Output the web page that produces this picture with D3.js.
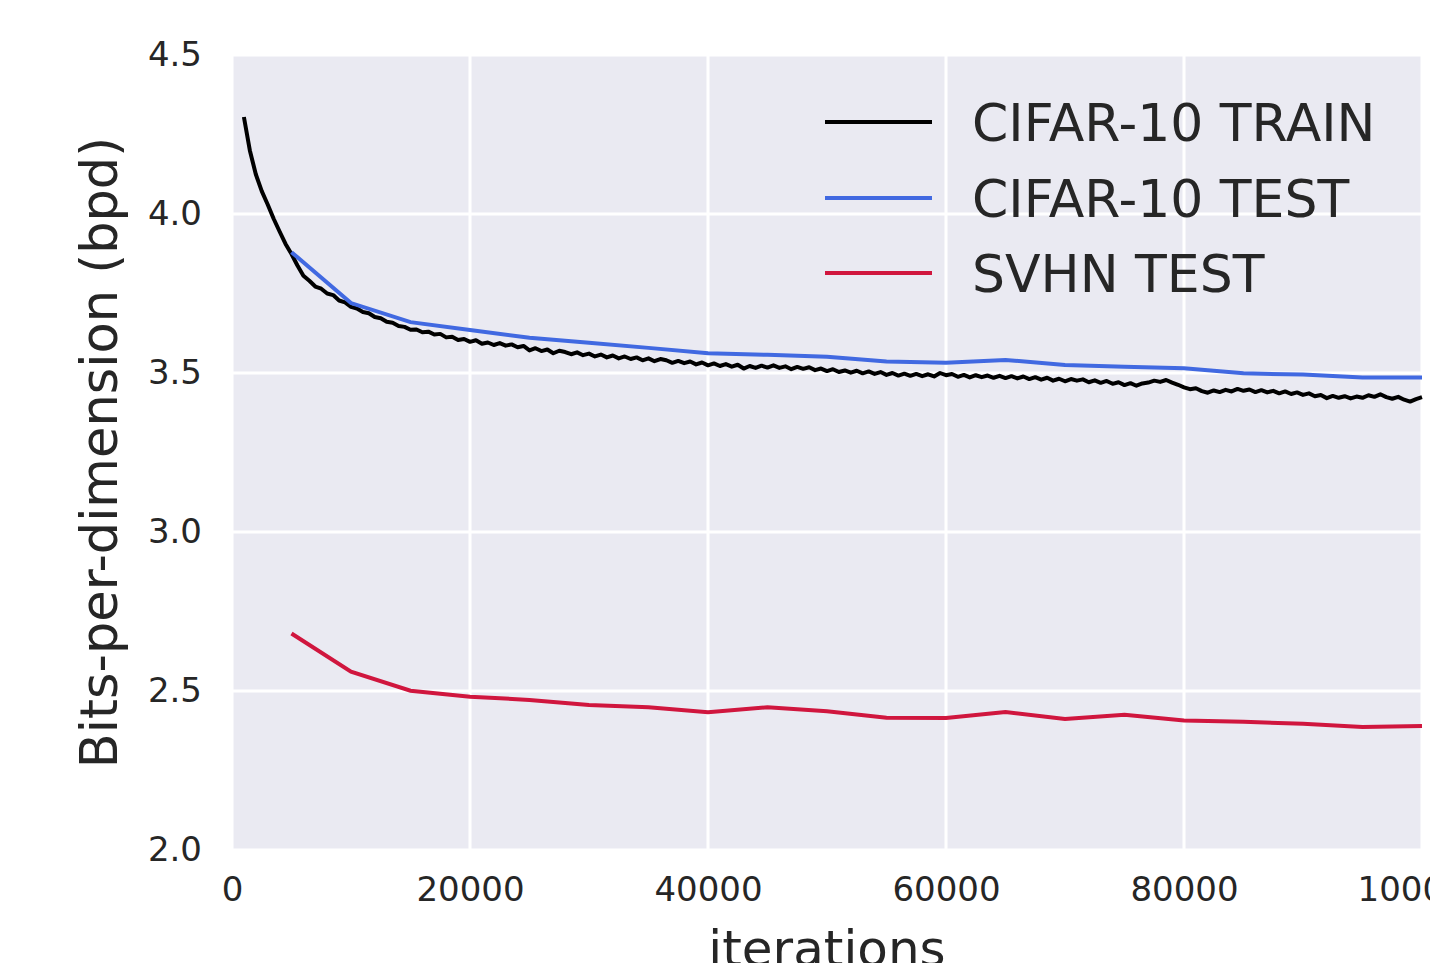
<!DOCTYPE html>
<html lang="en">
<head>
  <meta charset="UTF-8">
  <title>Bits-per-dimension vs iterations</title>
  <script src="https://d3js.org/d3.v7.min.js"></script>
  <style>
    body { margin: 0; background: #fff; }
    svg { display: block; }
    text { font-family: "DejaVu Sans", sans-serif; fill: #262626; }
  </style>
</head>
<body>
  <svg width="1430" height="963"></svg>
  <script>
    // Train curve is logged every 500 iterations starting at 1000.
    const trainStart = 1000, trainStep = 500;
    const trainBpd = [
      4.305, 4.200, 4.125, 4.072, 4.030, 3.985, 3.945, 3.906, 3.874, 3.838,
      3.806, 3.790, 3.772, 3.765, 3.750, 3.745, 3.728, 3.722, 3.708, 3.703,
      3.692, 3.688, 3.676, 3.672, 3.661, 3.658, 3.648, 3.645, 3.636, 3.637,
      3.628, 3.630, 3.621, 3.623, 3.612, 3.614, 3.604, 3.607,
      3.598, 3.603, 3.592, 3.596, 3.588, 3.594, 3.586, 3.590, 3.581, 3.585,
      3.571, 3.578, 3.569, 3.574, 3.562, 3.570, 3.566, 3.559, 3.565, 3.556,
      3.561, 3.552, 3.558, 3.549, 3.555, 3.546, 3.552, 3.544, 3.549, 3.540,
      3.546, 3.537, 3.544, 3.540, 3.532, 3.538, 3.531, 3.536, 3.527, 3.533,
      3.524, 3.530, 3.522, 3.528, 3.520, 3.526, 3.514, 3.522, 3.516, 3.523,
      3.517, 3.524, 3.516, 3.521, 3.512, 3.519, 3.513, 3.518, 3.509, 3.514,
      3.506, 3.512, 3.503, 3.508, 3.501, 3.507, 3.499, 3.505, 3.497, 3.503,
      3.494, 3.500, 3.492, 3.498, 3.491, 3.497, 3.490, 3.496, 3.489, 3.500,
      3.493, 3.497, 3.488, 3.494, 3.486, 3.493, 3.487, 3.492, 3.485, 3.491,
      3.484, 3.490, 3.483, 3.489, 3.481, 3.487, 3.479, 3.485, 3.476, 3.482,
      3.474, 3.481, 3.476, 3.480, 3.471, 3.477, 3.469, 3.475, 3.466, 3.471,
      3.462, 3.468, 3.460, 3.467, 3.470, 3.476, 3.472, 3.478, 3.470, 3.463,
      3.455, 3.449, 3.452, 3.443, 3.438, 3.445, 3.440, 3.447, 3.442, 3.450,
      3.444, 3.448, 3.440, 3.446, 3.439, 3.444, 3.436, 3.442, 3.434, 3.439,
      3.431, 3.436, 3.427, 3.431, 3.421, 3.428, 3.422, 3.427, 3.420, 3.426,
      3.422, 3.430, 3.425, 3.433, 3.424, 3.419, 3.425, 3.416, 3.410, 3.418,
      3.424
    ];

    // Test curves are evaluated every 5000 iterations.
    const testIters = [5000, 10000, 15000, 20000, 25000, 30000, 35000, 40000, 45000, 50000,
                       55000, 60000, 65000, 70000, 75000, 80000, 85000, 90000, 95000, 100000];
    const cifarTest = [3.880, 3.720, 3.660, 3.635, 3.611, 3.595, 3.579, 3.562, 3.557, 3.551,
                       3.536, 3.532, 3.541, 3.525, 3.520, 3.515, 3.499, 3.495, 3.486, 3.486];
    const svhnTest  = [2.681, 2.561, 2.501, 2.482, 2.472, 2.456, 2.449, 2.433, 2.449, 2.436,
                       2.416, 2.415, 2.434, 2.412, 2.425, 2.407, 2.403, 2.397, 2.387, 2.390];

    const xTicks = [0, 20000, 40000, 60000, 80000, 100000];
    const yTicks = [2.0, 2.5, 3.0, 3.5, 4.0, 4.5];

    const seriesNames = ["CIFAR-10 TRAIN", "CIFAR-10 TEST", "SVHN TEST"];
    const seriesColors = ["#000000", "#4169e1", "#d0163e"];

    const trainData = trainBpd.map((v, i) => ({ x: trainStart + i * trainStep, y: v }));
    const cifarData = testIters.map((it, i) => ({ x: it, y: cifarTest[i] }));
    const svhnData = testIters.map((it, i) => ({ x: it, y: svhnTest[i] }));

    const margin = { left: 232, right: 8, top: 55, bottom: 113 };
    const width = 1430, height = 963;
    const svg = d3.select("svg");

    const x = d3.scaleLinear().domain([0, 100000]).range([margin.left, width - margin.right]);
    const y = d3.scaleLinear().domain([2.0, 4.5]).range([height - margin.bottom, margin.top]);

    // background
    svg.append("rect")
       .attr("x", x(0)).attr("y", y(4.5))
       .attr("width", x(100000) - x(0)).attr("height", y(2.0) - y(4.5))
       .attr("fill", "#eaeaf2");

    // grid
    svg.append("g").selectAll("line").data(xTicks).join("line")
       .attr("x1", d => x(d)).attr("x2", d => x(d))
       .attr("y1", y(4.5)).attr("y2", y(2.0))
       .attr("stroke", "#fff").attr("stroke-width", 3);
    svg.append("g").selectAll("line").data(yTicks).join("line")
       .attr("x1", x(0)).attr("x2", x(100000))
       .attr("y1", d => y(d)).attr("y2", d => y(d))
       .attr("stroke", "#fff").attr("stroke-width", 3);

    // axes (labels only, seaborn style)
    const xAxis = svg.append("g")
       .attr("transform", `translate(0,${y(2.0)})`)
       .call(d3.axisBottom(x).tickValues(xTicks).tickFormat(d3.format("d")).tickSize(0).tickPadding(27));
    xAxis.select(".domain").remove();
    xAxis.selectAll("text").style("font-size", "34px").attr("fill", "#2e2e2e");

    const yAxis = svg.append("g")
       .attr("transform", `translate(${x(0)},0)`)
       .call(d3.axisLeft(y).tickValues(yTicks).tickFormat(d3.format(".1f")).tickSize(0).tickPadding(30));
    yAxis.select(".domain").remove();
    yAxis.selectAll("text").style("font-size", "34px").attr("fill", "#2e2e2e");

    // lines
    const line = d3.line().x(d => x(d.x)).y(d => y(d.y));
    svg.append("path").datum(svhnData).attr("d", line)
       .attr("fill", "none").attr("stroke", seriesColors[2]).attr("stroke-width", 4);
    svg.append("path").datum(trainData).attr("d", line)
       .attr("fill", "none").attr("stroke", seriesColors[0]).attr("stroke-width", 4)
       .attr("stroke-linejoin", "round");
    svg.append("path").datum(cifarData).attr("d", line)
       .attr("fill", "none").attr("stroke", seriesColors[1]).attr("stroke-width", 4);

    // axis labels
    svg.append("text")
       .attr("x", (x(0) + x(100000)) / 2).attr("y", 966)
       .attr("text-anchor", "middle")
       .style("font-size", "50px")
       .text("iterations");
    svg.append("text")
       .attr("transform", `translate(117,${(y(2.0) + y(4.5)) / 2}) rotate(-90)`)
       .attr("text-anchor", "middle")
       .style("font-size", "51px")
       .text("Bits-per-dimension (bpd)");

    // legend
    const legend = svg.append("g");
    const legendY = [122, 198, 273];
    seriesNames.forEach((name, i) => {
      legend.append("line")
            .attr("x1", 825).attr("x2", 932)
            .attr("y1", legendY[i]).attr("y2", legendY[i])
            .attr("stroke", seriesColors[i]).attr("stroke-width", 4);
      legend.append("text")
            .attr("x", 972).attr("y", legendY[i] + 19)
            .style("font-size", "52px")
            .text(name);
    });
  </script>
</body>
</html>
